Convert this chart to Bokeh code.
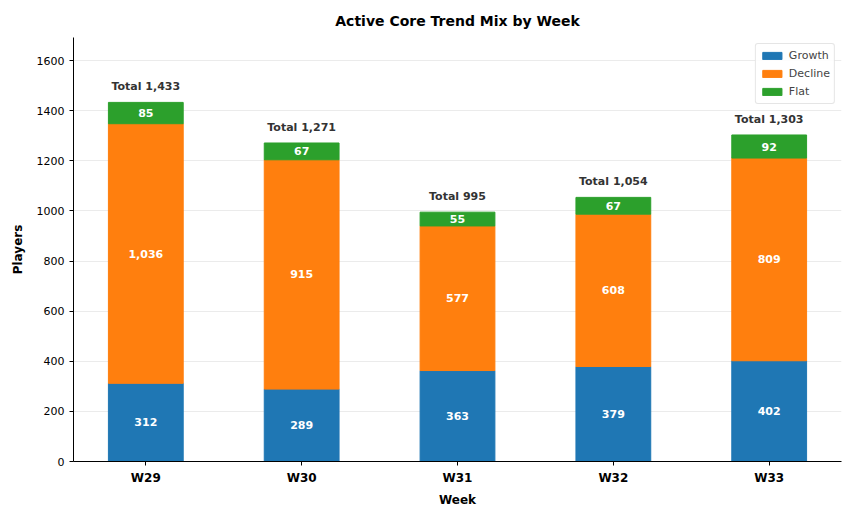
from bokeh.plotting import figure
from bokeh.models import ColumnDataSource, FixedTicker, Legend, LegendItem, Range1d
from bokeh.embed import file_html
from bokeh.resources import INLINE
from bokeh.core.properties import value

weeks = ["W29", "W30", "W31", "W32", "W33"]
growth = [312, 289, 363, 379, 402]
decline = [1036, 915, 577, 608, 809]
flat = [85, 67, 55, 67, 92]
series_names = ["Growth", "Decline", "Flat"]
colors = ["#1f77b4", "#ff7f0e", "#2ca02c"]
y_ticks = [0, 200, 400, 600, 800, 1000, 1200, 1400, 1600]

FONT = "DejaVu Sans"

xs = list(range(len(weeks)))
g_top = growth
d_top = [g + d for g, d in zip(growth, decline)]
totals = [g + d + f for g, d, f in zip(growth, decline, flat)]

src = ColumnDataSource(dict(
    x=xs, growth=growth, decline=decline, flat=flat,
    g0=[0] * len(xs), g1=g_top, d1=d_top, t=totals,
    gm=[g / 2 for g in growth],
    dm=[g + d / 2 for g, d in zip(growth, decline)],
    fm=[dt + f / 2 for dt, f in zip(d_top, flat)],
    glab=[f"{v:,}" for v in growth],
    dlab=[f"{v:,}" for v in decline],
    flab=[f"{v:,}" for v in flat],
    tlab=[f"Total {v:,}" for v in totals],
))

p = figure(width=845, height=509, output_backend="svg", toolbar_location=None,
           x_range=Range1d(-0.464, 4.464), y_range=Range1d(0, 1692),
           min_border_left=73, min_border_right=4, min_border_top=37, min_border_bottom=48)
p.frame_width = 768
p.frame_height = 424

bw = 0.48
r1 = p.vbar(x="x", bottom="g0", top="g1", width=bw, color=colors[0], source=src)
r2 = p.vbar(x="x", bottom="g1", top="d1", width=bw, color=colors[1], source=src)
r3 = p.vbar(x="x", bottom="d1", top="t", width=bw, color=colors[2], source=src)

for ycol, lcol in [("gm", "glab"), ("dm", "dlab"), ("fm", "flab")]:
    p.text(x="x", y=ycol, text=lcol, source=src, text_color="white",
           text_font=value(FONT), text_font_size="11px", text_font_style="bold",
           text_align="center", text_baseline="middle")

p.text(x="x", y="t", text="tlab", source=src, text_color="#333333",
       text_font=value(FONT), text_font_size="11px", text_font_style="bold",
       text_align="center", text_baseline="bottom", y_offset=-9)

p.title.text = "Active Core Trend Mix by Week"
p.title.align = "center"
p.title.text_font = FONT
p.title.text_font_size = "14px"
p.title.text_font_style = "bold"
p.title.text_color = "black"
p.title.standoff = 18

p.xaxis.ticker = FixedTicker(ticks=xs)
p.xaxis.major_label_overrides = {i: w for i, w in enumerate(weeks)}
p.yaxis.ticker = FixedTicker(ticks=y_ticks)

for ax in (p.xaxis, p.yaxis):
    ax.axis_line_color = "black"
    ax.major_tick_line_color = "black"
    ax.minor_tick_line_color = None
    ax.major_tick_in = 0
    ax.major_tick_out = 4
    ax.major_label_text_font = FONT
    ax.major_label_text_color = "black"
    ax.axis_label_text_font = FONT
    ax.axis_label_text_font_style = "bold"
    ax.axis_label_text_font_size = "12px"
    ax.axis_label_text_color = "black"

p.xaxis.major_label_text_font_size = "12px"
p.xaxis.major_label_text_font_style = "bold"
p.yaxis.major_label_text_font_size = "11px"
p.yaxis.axis_label_standoff = 9
p.xaxis.axis_label = "Week"
p.yaxis.axis_label = "Players"

p.xgrid.grid_line_color = None
p.ygrid.grid_line_color = "#ebebeb"
p.ygrid.ticker = FixedTicker(ticks=y_ticks)
p.outline_line_color = None

legend = Legend(items=[LegendItem(label=series_names[0], renderers=[r1]),
                       LegendItem(label=series_names[1], renderers=[r2]),
                       LegendItem(label=series_names[2], renderers=[r3])],
                location="top_right")
legend.label_text_font = FONT
legend.label_text_font_size = "11px"
legend.glyph_height = 9
legend.glyph_width = 24
legend.label_height = 15
legend.spacing = 3
legend.padding = 4
legend.margin = 6
legend.border_line_color = "#cccccc"
legend.border_radius = 3
legend.background_fill_alpha = 0.9
p.add_layout(legend)

open("out.html", "w").write(file_html(p, INLINE))
